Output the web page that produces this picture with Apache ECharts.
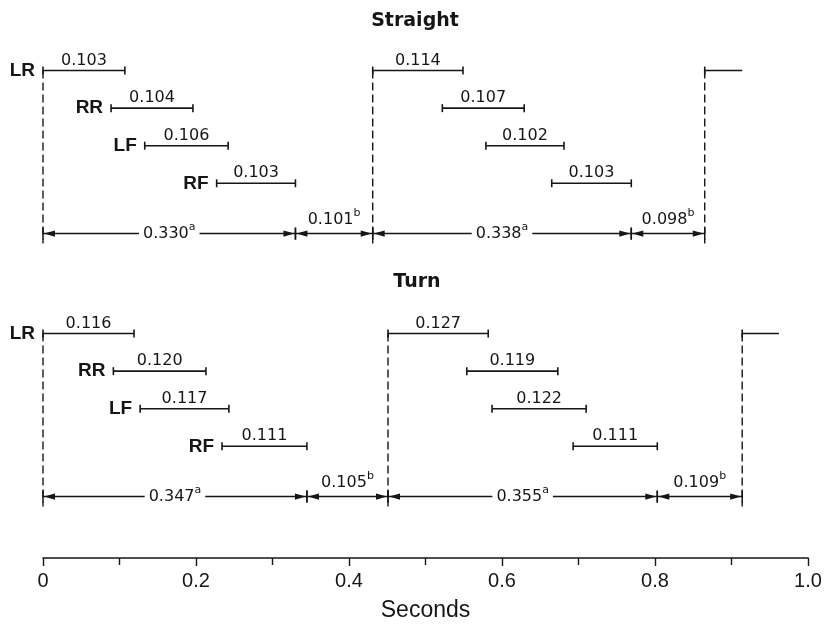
<!DOCTYPE html>
<html><head><meta charset="utf-8">
<script src="https://cdn.jsdelivr.net/npm/echarts@6/dist/echarts.min.js"></script>
<style>html,body{margin:0;padding:0;background:#fff}#chart{width:827px;height:627px}</style>
</head><body><div id="chart"></div>
<script>
// ---- data (seconds) ----
const limbs = ['LR', 'RR', 'LF', 'RF'];

// Straight
const straightStart1 = [0.000, 0.089, 0.133, 0.227];
const straightEnd1   = [0.107, 0.196, 0.242, 0.330];
const straightDur1   = ['0.103', '0.104', '0.106', '0.103'];
const straightStart2 = [0.431, 0.522, 0.579, 0.665];
const straightEnd2   = [0.549, 0.629, 0.681, 0.769];
const straightDur2   = ['0.114', '0.107', '0.102', '0.103'];
const straightNext   = [0.865, 0.914];
const straightPhaseBounds = [0.000, 0.330, 0.431, 0.769, 0.865];
const straightPhaseLabels = ['0.330', '0.101', '0.338', '0.098'];
const straightPhaseNotes  = ['a', 'b', 'a', 'b'];

// Turn
const turnStart1 = [0.000, 0.092, 0.127, 0.234];
const turnEnd1   = [0.119, 0.213, 0.243, 0.345];
const turnDur1   = ['0.116', '0.120', '0.117', '0.111'];
const turnStart2 = [0.451, 0.554, 0.587, 0.693];
const turnEnd2   = [0.582, 0.673, 0.710, 0.803];
const turnDur2   = ['0.127', '0.119', '0.122', '0.111'];
const turnNext   = [0.914, 0.962];
const turnPhaseBounds = [0.000, 0.345, 0.451, 0.803, 0.914];
const turnPhaseLabels = ['0.347', '0.105', '0.355', '0.109'];
const turnPhaseNotes  = ['a', 'b', 'a', 'b'];

const panelTitles = ['Straight', 'Turn'];
const xTicks = [0, 0.2, 0.4, 0.6, 0.8, 1.0];
const xTickLabels = ['0', '0.2', '0.4', '0.6', '0.8', '1.0'];
const xAxisName = 'Seconds';

// ---- layout (row units on hidden y axis) ----
const PANEL_TOP = [0, 7];
const ARROW_OFFSET = 4.34;

const bars = [];
const phases = [];
const dashes = [];

function addPanel(top, s1, e1, d1, s2, e2, d2, next, bounds, plabels, pnotes) {
  for (let i = 0; i < limbs.length; i++) {
    bars.push({start: s1[i], end: e1[i], row: top + i, text: d1[i], name: limbs[i], stub: false});
    bars.push({start: s2[i], end: e2[i], row: top + i, text: d2[i], name: '', stub: false});
  }
  bars.push({start: next[0], end: next[1], row: top, text: '', name: '', stub: true});
  const arrowRow = top + ARROW_OFFSET;
  for (let i = 0; i < plabels.length; i++) {
    phases.push({start: bounds[i], end: bounds[i + 1], row: arrowRow,
      text: plabels[i], note: pnotes[i], inline: pnotes[i] === 'a'});
  }
  [s1[0], s2[0], next[0]].forEach(x => dashes.push({x: x, top: top, bottom: arrowRow}));
}
addPanel(PANEL_TOP[0], straightStart1, straightEnd1, straightDur1, straightStart2, straightEnd2, straightDur2,
  straightNext, straightPhaseBounds, straightPhaseLabels, straightPhaseNotes);
addPanel(PANEL_TOP[1], turnStart1, turnEnd1, turnDur1, turnStart2, turnEnd2, turnDur2,
  turnNext, turnPhaseBounds, turnPhaseLabels, turnPhaseNotes);

const INK = '#161616';
const NUM_FONT = '"DejaVu Sans", sans-serif';
const SANS = '"Liberation Sans", Arial, sans-serif';

function renderBar(params, api) {
  const b = bars[params.dataIndex];
  const p0 = api.coord([b.start, b.row]);
  const p1 = api.coord([b.end, b.row]);
  const y = p0[1];
  const st = {stroke: INK, lineWidth: 1.6};
  const ch = [
    {type: 'line', shape: {x1: p0[0], y1: y, x2: p1[0], y2: y}, style: st},
    {type: 'line', shape: {x1: p0[0], y1: y - 4, x2: p0[0], y2: y + 4}, style: st}
  ];
  if (!b.stub) {
    ch.push({type: 'line', shape: {x1: p1[0], y1: y - 4, x2: p1[0], y2: y + 4}, style: st});
    ch.push({type: 'text', style: {text: b.text, x: (p0[0] + p1[0]) / 2, y: y - 10,
      align: 'center', verticalAlign: 'middle', fill: INK,
      fontSize: 16, fontFamily: NUM_FONT}});
  }
  if (b.name) {
    ch.push({type: 'text', style: {text: b.name, x: p0[0] - 8, y: y,
      align: 'right', verticalAlign: 'middle', fill: INK,
      fontSize: 19, fontWeight: 'bold', fontFamily: SANS}});
  }
  return {type: 'group', children: ch};
}

function renderPhase(params, api) {
  const ph = phases[params.dataIndex];
  const p0 = api.coord([ph.start, ph.row]);
  const p1 = api.coord([ph.end, ph.row]);
  const y = p0[1], x0 = p0[0], x1 = p1[0];
  const L = 11, H = 3.2;
  const st = {stroke: INK, lineWidth: 1.5};
  const ch = [
    {type: 'line', shape: {x1: x0, y1: y, x2: x1, y2: y}, style: st},
    {type: 'polygon', shape: {points: [[x0 + 1, y], [x0 + 1 + L, y - H], [x0 + 1 + L, y + H]]}, style: {fill: INK}},
    {type: 'polygon', shape: {points: [[x1 - 1, y], [x1 - 1 - L, y - H], [x1 - 1 - L, y + H]]}, style: {fill: INK}},
    {type: 'line', shape: {x1: x0, y1: y - 6, x2: x0, y2: y + 6}, style: st},
    {type: 'line', shape: {x1: x1, y1: y - 6, x2: x1, y2: y + 6}, style: st}
  ];
  const txt = {
    text: '{n|' + ph.text + '}{s|' + ph.note + '}',
    x: (x0 + x1) / 2,
    y: ph.inline ? y : y - 14,
    align: 'center', verticalAlign: 'middle',
    rich: {
      n: {fontSize: 16, fontFamily: NUM_FONT, fill: INK, lineHeight: 24},
      s: {fontSize: 11, fontFamily: NUM_FONT, fill: INK, lineHeight: 11, verticalAlign: 'top'}
    }
  };
  if (ph.inline) {
    txt.backgroundColor = '#fff';
    txt.padding = [0, 4, 0, 4];
  }
  ch.push({type: 'text', style: txt});
  return {type: 'group', children: ch};
}

function renderDash(params, api) {
  const d = dashes[params.dataIndex];
  const p0 = api.coord([d.x, d.top]);
  const p1 = api.coord([d.x, d.bottom]);
  return {type: 'line', shape: {x1: p0[0], y1: p0[1], x2: p1[0], y2: p1[1] + 10},
    style: {stroke: INK, lineWidth: 1.4, lineDash: [8, 4]}};
}

const chart = echarts.init(document.getElementById('chart'), null, {renderer: 'canvas'});
chart.setOption({
  animation: false,
  backgroundColor: '#fff',
  grid: {left: 43, right: 19, top: 33, bottom: 63},
  xAxis: {
    type: 'value', min: 0, max: 1, interval: 0.2, position: 'bottom',
    axisLine: {show: true, onZero: false, lineStyle: {color: INK, width: 1.6}},
    axisTick: {show: true, length: 8, lineStyle: {color: INK, width: 1.4}},
    minorTick: {show: true, splitNumber: 2, length: 7, lineStyle: {color: INK, width: 1.4}},
    splitLine: {show: false},
    axisLabel: {
      margin: 13, fontSize: 20, color: INK, fontFamily: SANS,
      formatter: v => {
        const i = xTicks.findIndex(t => Math.abs(t - v) < 1e-6);
        return i >= 0 ? xTickLabels[i] : '';
      }
    },
    name: xAxisName, nameLocation: 'middle', nameGap: 41,
    nameTextStyle: {fontSize: 23, color: INK, fontFamily: SANS}
  },
  yAxis: {type: 'value', min: -1, max: 12.974, inverse: true, show: false},
  graphic: [
    {type: 'text', x: 415, y: 21, style: {text: panelTitles[0], align: 'center', verticalAlign: 'middle',
      fill: INK, fontSize: 19, fontWeight: 'bold', fontFamily: NUM_FONT}},
    {type: 'text', x: 417, y: 282, style: {text: panelTitles[1], align: 'center', verticalAlign: 'middle',
      fill: INK, fontSize: 19, fontWeight: 'bold', fontFamily: NUM_FONT}}
  ],
  series: [
    {type: 'custom', renderItem: renderDash, data: dashes.map(d => [d.x, d.top]), encode: {x: 0, y: 1}, silent: true, clip: false},
    {type: 'custom', renderItem: renderBar, data: bars.map(b => [b.start, b.end, b.row]), encode: {x: [0, 1], y: 2}, silent: true, clip: false},
    {type: 'custom', renderItem: renderPhase, data: phases.map(p => [p.start, p.end, p.row]), encode: {x: [0, 1], y: 2}, silent: true, clip: false}
  ]
});
</script></body></html>
